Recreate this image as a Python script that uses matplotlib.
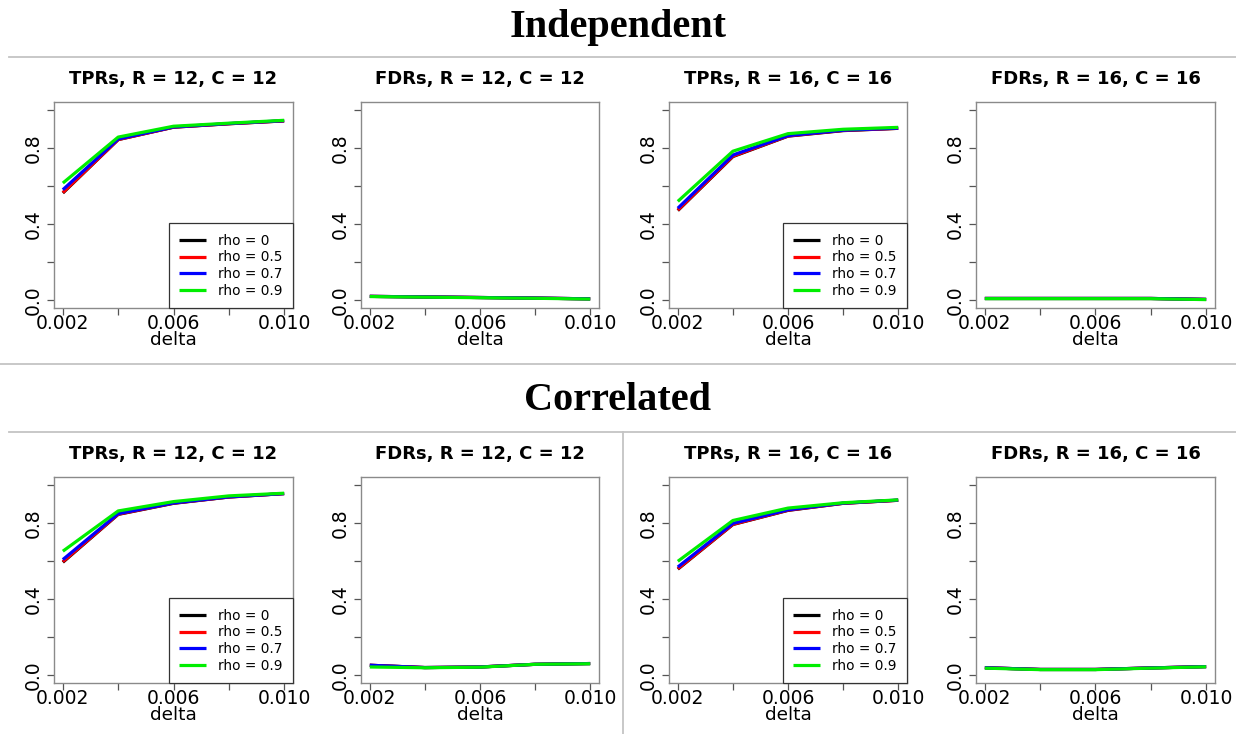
import matplotlib
matplotlib.use("Agg")
import matplotlib.pyplot as plt
from matplotlib.lines import Line2D

# ---------------- data ----------------
delta = [0.002, 0.004, 0.006, 0.008, 0.010]
rho_labels = ["rho = 0", "rho = 0.5", "rho = 0.7", "rho = 0.9"]
rho_colors = ["black", "red", "blue", "#00ee00"]

# Independent
ind_tpr_12 = [[0.563, 0.843, 0.908, 0.926, 0.941],
              [0.565, 0.843, 0.908, 0.926, 0.941],
              [0.580, 0.846, 0.909, 0.927, 0.942],
              [0.615, 0.856, 0.913, 0.929, 0.944]]
ind_fdr_12 = [[0.021, 0.018, 0.015, 0.012, 0.008],
              [0.021, 0.018, 0.015, 0.012, 0.008],
              [0.021, 0.018, 0.015, 0.012, 0.008],
              [0.020, 0.017, 0.014, 0.011, 0.007]]
ind_tpr_16 = [[0.471, 0.754, 0.861, 0.890, 0.902],
              [0.473, 0.756, 0.862, 0.891, 0.902],
              [0.483, 0.762, 0.864, 0.892, 0.903],
              [0.519, 0.782, 0.874, 0.897, 0.907]]
ind_fdr_16 = [[0.010, 0.010, 0.010, 0.010, 0.005],
              [0.010, 0.010, 0.010, 0.010, 0.005],
              [0.010, 0.010, 0.010, 0.010, 0.005],
              [0.009, 0.009, 0.009, 0.009, 0.004]]

# Correlated
cor_tpr_12 = [[0.593, 0.844, 0.902, 0.935, 0.953],
              [0.596, 0.845, 0.903, 0.935, 0.953],
              [0.607, 0.848, 0.904, 0.936, 0.953],
              [0.651, 0.862, 0.911, 0.941, 0.955]]
cor_fdr_12 = [[0.053, 0.041, 0.044, 0.058, 0.062],
              [0.053, 0.041, 0.044, 0.058, 0.062],
              [0.053, 0.041, 0.044, 0.058, 0.062],
              [0.044, 0.040, 0.043, 0.058, 0.061]]
cor_tpr_16 = [[0.557, 0.791, 0.865, 0.902, 0.918],
              [0.559, 0.792, 0.866, 0.902, 0.918],
              [0.568, 0.797, 0.868, 0.903, 0.919],
              [0.598, 0.812, 0.877, 0.905, 0.920]]
cor_fdr_16 = [[0.040, 0.031, 0.031, 0.039, 0.046],
              [0.040, 0.031, 0.031, 0.039, 0.046],
              [0.040, 0.031, 0.031, 0.039, 0.046],
              [0.038, 0.030, 0.030, 0.038, 0.045]]

titles = ["TPRs, R = 12, C = 12", "FDRs, R = 12, C = 12",
          "TPRs, R = 16, C = 16", "FDRs, R = 16, C = 16"]
section_titles = ["Independent", "Correlated"]
rows = [[ind_tpr_12, ind_fdr_12, ind_tpr_16, ind_fdr_16],
        [cor_tpr_12, cor_fdr_12, cor_tpr_16, cor_fdr_16]]
has_legend = [True, False, True, False]

yticks = [0.0, 0.2, 0.4, 0.6, 0.8, 1.0]
ytick_labels = ["0.0", "", "0.4", "", "0.8", ""]
xticks = [0.002, 0.004, 0.006, 0.008, 0.010]
xtick_labels = ["0.002", "", "0.006", "", "0.010"]

# ---------------- layout ----------------
W, H = 1236, 734
fig = plt.figure(figsize=(W / 100, H / 100), dpi=100)
plt.rcParams['font.family'] = ['DejaVu Sans']

lefts = [54, 361, 669, 976]
rights = [293, 599, 907, 1215]
tops = [102, 477]
box_h = 206

def px_axes(l, t, r, b):
    return [l / W, (H - b) / H, (r - l) / W, (b - t) / H]

for ri, row in enumerate(rows):
    for ci, series in enumerate(row):
        ax = fig.add_axes(px_axes(lefts[ci], tops[ri], rights[ci], tops[ri] + box_h))
        for s, col, lab in zip(series, rho_colors, rho_labels):
            ax.plot(delta, s, color=col, lw=2.3, label=lab, solid_capstyle='butt')
        ax.set_xlim(0.002 - 0.008 * 0.04, 0.010 + 0.008 * 0.04)
        ax.set_ylim(-0.04, 1.04)
        ax.set_yticks(yticks)
        ax.set_yticklabels(ytick_labels, rotation=90, va='center', fontsize=13.5)
        ax.set_xticks(xticks)
        ax.set_xticklabels(xtick_labels, fontsize=13.5)
        ax.tick_params(axis='both', direction='out', length=5, width=0.9,
                       color='#555555')
        ax.tick_params(axis='x', pad=-1)
        ax.tick_params(axis='y', pad=3)
        for sp in ax.spines.values():
            sp.set_color('#8a8a8a')
            sp.set_linewidth(1.0)
        ax.set_xlabel("delta", fontsize=13.3, labelpad=-1)
        ax.set_title(titles[ci], fontsize=13, fontweight='bold', pad=13)
        if has_legend[ci]:
            leg = ax.legend(loc='lower right', fontsize=9.8, fancybox=False,
                            frameon=True, borderaxespad=0, borderpad=0.75,
                            labelspacing=0.2, handlelength=2.0,
                            handletextpad=0.9, framealpha=1)
            leg.get_frame().set_edgecolor('#333333')
            leg.get_frame().set_linewidth(0.9)
            for h in leg.get_lines():
                h.set_linewidth(2.3)

# section titles
fig.text(0.5, 1 - 27 / H, section_titles[0], ha='center', va='center',
         fontsize=29, fontweight='bold', family='Liberation Serif')
fig.text(0.5, 1 - 400 / H, section_titles[1], ha='center', va='center',
         fontsize=29, fontweight='bold', family='Liberation Serif')

# separator lines
sep = dict(color='#c4c4c4', lw=1.3, transform=fig.transFigure)
fig.add_artist(Line2D([9 / W, 1], [1 - 57.3 / H] * 2, **sep))
fig.add_artist(Line2D([0, 1], [1 - 364.3 / H] * 2, **sep))
fig.add_artist(Line2D([9 / W, 1], [1 - 431.7 / H] * 2, **sep))
fig.add_artist(Line2D([622.7 / W] * 2, [1 - 431.7 / H, 0], **sep))

fig.savefig("out.png", dpi=100)
